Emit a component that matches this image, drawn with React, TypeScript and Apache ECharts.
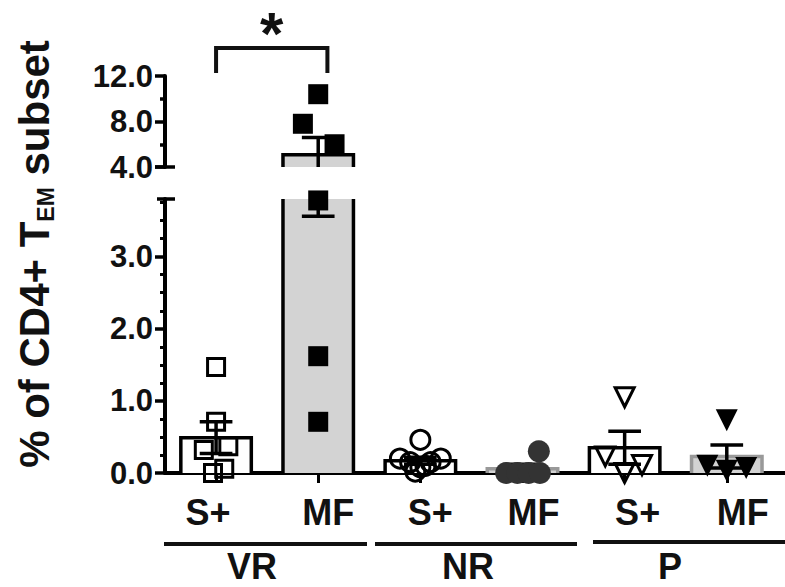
import React, { useEffect, useRef } from "react";
import * as echarts from "echarts";

// ---------- data ----------
const categories = ["S+", "MF", "S+", "MF", "S+", "MF"];
const groups = ["VR", "NR", "P"];
const means = [0.49, 5.08, 0.17, 0.06, 0.35, 0.23];
const sems = [0.22, 1.52, 0.05, 0.06, 0.23, 0.16];
const lowerTickValues = [0, 1, 2, 3];
const lowerMinorValues = [0.25, 0.5, 0.75, 1.25, 1.5, 1.75, 2.25, 2.5, 2.75, 3.25, 3.5, 3.75];
const upperTickInterval = 4;

const vrSPlus = [1.47, 0.71, 0.32, 0.37, 0.0, 0.06];
const vrMF = [10.4, 7.8, 6.0, 3.78, 1.62, 0.71];
const nrSPlus = [0.46, 0.2, 0.2, 0.15, 0.15, 0.08, 0.02, 0.1];
const nrMF = [0.3, 0.0, 0.0, 0.0, 0.0];
const pSPlus = [1.05, 0.23, 0.11, 0.0];
const pMF = [0.73, 0.1, 0.03, 0.07];

// horizontal scatter of the points inside each column (category units)
const vrSPlusJitter = [0, 0, -0.12, 0.12, -0.03, 0.08];
const vrMFJitter = [0, -0.15, 0.16, 0, 0, 0];
const nrSPlusJitter = [0, -0.2, 0.2, -0.1, 0.1, 0, -0.05, 0.05];
const nrMFJitter = [0.16, -0.16, -0.05, 0.06, 0.17];
const pSPlusJitter = [0, -0.19, 0.17, 0];
const pMFJitter = [0, -0.19, 0, 0.19];

// significance bracket between VR S+ and VR MF
const bracket = [[0, 1.09, 14.46, 12.26]];

// ---------- styles ----------
const FONT = "'Liberation Sans', Arial, Helvetica, sans-serif";
const TEXT = "#111";
const BAR_WIDTH = 0.69;
const CAP_WIDTH = 0.32;
const LOWER_MAX = 3.8;
const UPPER_MIN = 4;
const UPPER_MAX = 12;
const BREAK_SPLIT = 3.9;
const LW = 3.5;
const barFills = ["#ffffff", "#d3d3d3", "#ffffff", "#d3d3d3", "#ffffff", "#d3d3d3"];
const barStrokes = ["#000", "#000", "#000", "#999", "#000", "#999"];
const labelShift = [-8, 10, 10, 11, 13, 16];

const pointSets = [
  { cat: 0, values: vrSPlus, jitter: vrSPlusJitter, symbol: "rect", rotate: 0, size: 17, fill: "rgba(0,0,0,0)", stroke: "#000", bw: 3 },
  { cat: 1, values: vrMF, jitter: vrMFJitter, symbol: "rect", rotate: 0, size: 20, fill: "#000", stroke: "#000", bw: 0 },
  { cat: 2, values: nrSPlus, jitter: nrSPlusJitter, symbol: "circle", rotate: 0, size: 19, fill: "rgba(0,0,0,0)", stroke: "#000", bw: 3 },
  { cat: 3, values: nrMF, jitter: nrMFJitter, symbol: "circle", rotate: 0, size: 22, fill: "#333", stroke: "#333", bw: 0 },
  { cat: 4, values: pSPlus, jitter: pSPlusJitter, symbol: "triangle", rotate: 180, size: 19, fill: "rgba(0,0,0,0)", stroke: "#000", bw: 3 },
  { cat: 5, values: pMF, jitter: pMFJitter, symbol: "triangle", rotate: 180, size: 22, fill: "#000", stroke: "#000", bw: 0 },
];

const groupLines = [
  { x1: 164, x2: 367, y: 544 },
  { x1: 375, x2: 577, y: 544 },
  { x1: 593, x2: 785, y: 542 },
];
const groupLabelPos = [
  { x: 252, y: 566 },
  { x: 468, y: 566 },
  { x: 670, y: 566 },
];

function makeBarRender(segMin: number, segMax: number) {
  return (params: any, api: any) => {
    const i = api.value(0);
    const m = api.value(1);
    const s = api.value(2);
    const idx = params.dataIndex;
    const half = api.size([BAR_WIDTH, 0])[0] / 2;
    const capHalf = api.size([CAP_WIDTH, 0])[0] / 2;
    const cx = api.coord([i, segMin])[0];
    const children: any[] = [];
    if (m > segMin) {
      const top = Math.min(m, segMax);
      const yB = api.coord([i, segMin])[1];
      const yT = api.coord([i, top])[1];
      children.push({
        type: "rect",
        shape: { x: cx - half, y: yT, width: 2 * half, height: yB - yT },
        style: { fill: barFills[idx] },
      });
      if (m <= segMax) {
        children.push({
          type: "polyline",
          shape: { points: [[cx - half, yB], [cx - half, yT], [cx + half, yT], [cx + half, yB]] },
          style: { fill: "none", stroke: barStrokes[idx], lineWidth: LW, lineJoin: "miter" },
        });
      } else {
        children.push({
          type: "line",
          shape: { x1: cx - half, y1: yB, x2: cx - half, y2: yT },
          style: { stroke: barStrokes[idx], lineWidth: LW },
        });
        children.push({
          type: "line",
          shape: { x1: cx + half, y1: yB, x2: cx + half, y2: yT },
          style: { stroke: barStrokes[idx], lineWidth: LW },
        });
      }
    }
    const lo = m - s;
    const hi = m + s;
    const a = Math.max(lo, segMin);
    const b = Math.min(hi, segMax);
    if (b > a) {
      const ya = api.coord([i, a])[1];
      const yb = api.coord([i, b])[1];
      children.push({
        type: "line",
        shape: { x1: cx, y1: ya, x2: cx, y2: yb },
        style: { stroke: "#000", lineWidth: LW },
      });
      if (hi <= segMax && hi >= segMin) {
        const y = api.coord([i, hi])[1];
        children.push({
          type: "line",
          shape: { x1: cx - capHalf, y1: y, x2: cx + capHalf, y2: y },
          style: { stroke: "#000", lineWidth: LW },
        });
      }
      if (lo >= segMin && lo <= segMax) {
        const y = api.coord([i, lo])[1];
        children.push({
          type: "line",
          shape: { x1: cx - capHalf, y1: y, x2: cx + capHalf, y2: y },
          style: { stroke: "#000", lineWidth: LW },
        });
      }
    }
    return { type: "group", children };
  };
}

function bracketRender(params: any, api: any) {
  const x0 = api.value(0);
  const x1 = api.value(1);
  const yTop = api.value(2);
  const yLeg = api.value(3);
  const p0 = api.coord([x0, yLeg]);
  const p1 = api.coord([x0, yTop]);
  const p2 = api.coord([x1, yTop]);
  const p3 = api.coord([x1, yLeg]);
  return {
    type: "group",
    children: [
      {
        type: "polyline",
        shape: { points: [p0, p1, p2, p3] },
        style: { fill: "none", stroke: "#111", lineWidth: 4, lineJoin: "miter" },
      },
      {
        type: "text",
        x: (p1[0] + p2[0]) / 2,
        y: p1[1] - 15,
        style: {
          text: "*",
          font: `bold 60px ${FONT}`,
          fill: TEXT,
          align: "center",
          verticalAlign: "middle",
        },
      },
    ],
  };
}

export default function App() {
  const ref = useRef<HTMLDivElement>(null);

  useEffect(() => {
    document.body.style.margin = "0";
    const chart = echarts.init(ref.current!, undefined, { renderer: "svg" });

    const barData = means.map((m, i) => [i, m, sems[i]]);

    const scatterSeries: any[] = [];
    pointSets.forEach((ps) => {
      const pts = ps.values.map((v, k) => [ps.cat + ps.jitter[k], v]);
      const common = {
        type: "scatter",
        symbol: ps.symbol,
        symbolRotate: ps.rotate,
        symbolSize: ps.size,
        z: 5,
        clip: false,
        silent: true,
        itemStyle: { color: ps.fill, borderColor: ps.stroke, borderWidth: ps.bw, opacity: 1 },
      };
      scatterSeries.push({
        ...common,
        xAxisIndex: 1,
        yAxisIndex: 2,
        data: pts.filter((p) => p[1] <= BREAK_SPLIT),
      });
      scatterSeries.push({
        ...common,
        xAxisIndex: 0,
        yAxisIndex: 0,
        data: pts.filter((p) => p[1] > BREAK_SPLIT),
      });
    });

    const tickLabelStyle = {
      color: TEXT,
      fontFamily: FONT,
      fontWeight: "bold",
      fontSize: 31,
      margin: 12,
      formatter: (v: number) => v.toFixed(1),
    };

    const rich: any = {};
    labelShift.forEach((d, i) => {
      rich["l" + i] = {
        fontFamily: FONT,
        fontWeight: "bold",
        fontSize: 36,
        color: TEXT,
        padding: d >= 0 ? [0, 0, 0, 2 * d] : [0, -2 * d, 0, 0],
      };
    });

    const xMin = -0.5;
    const xMax = 5.57;

    const yBase = {
      type: "value",
      position: "left",
      splitLine: { show: false },
    };

    const option: any = {
      animation: false,
      grid: [
        { left: 165, right: 0, top: 76, height: 91, containLabel: false },
        { left: 165, right: 0, top: 199, height: 274, containLabel: false },
      ],
      xAxis: [
        { gridIndex: 0, type: "value", min: xMin, max: xMax, show: false },
        {
          gridIndex: 1,
          type: "value",
          position: "bottom",
          min: xMin,
          max: xMax,
          splitLine: { show: false },
          axisLine: { show: true, onZero: false, lineStyle: { color: "#000", width: 4 } },
          axisTick: {
            show: true,
            customValues: [0, 1, 2, 3, 4, 5],
            length: 10,
            lineStyle: { color: "#000", width: 3 },
          },
          axisLabel: {
            show: true,
            customValues: [0, 1, 2, 3, 4, 5],
            margin: 21,
            formatter: (v: number) => {
              const i = Math.round(v);
              return `{l${i}|${categories[i]}}`;
            },
            rich,
          },
        },
      ],
      yAxis: [
        {
          ...yBase,
          gridIndex: 0,
          min: UPPER_MIN,
          max: UPPER_MAX,
          interval: upperTickInterval,
          axisLine: { show: true, onZero: false, lineStyle: { color: "#000", width: 4 } },
          axisTick: { show: true, length: 10, lineStyle: { color: "#000", width: 3.5 } },
          minorTick: { show: true, splitNumber: 2, length: 5, lineStyle: { color: "#000", width: 3.5 } },
          axisLabel: tickLabelStyle,
        },
        {
          ...yBase,
          gridIndex: 0,
          min: UPPER_MIN,
          max: UPPER_MAX,
          offset: -10,
          axisLine: { show: false, onZero: false },
          axisTick: { show: true, customValues: [UPPER_MIN], length: 20, lineStyle: { color: "#000", width: 3.5 } },
          axisLabel: { show: false },
        },
        {
          ...yBase,
          gridIndex: 1,
          min: 0,
          max: LOWER_MAX,
          axisLine: { show: true, onZero: false, lineStyle: { color: "#000", width: 4 } },
          axisTick: { show: true, customValues: lowerTickValues, length: 10, lineStyle: { color: "#000", width: 3.5 } },
          axisLabel: { ...tickLabelStyle, customValues: lowerTickValues },
        },
        {
          ...yBase,
          gridIndex: 1,
          min: 0,
          max: LOWER_MAX,
          axisLine: { show: false, onZero: false },
          axisTick: { show: true, customValues: lowerMinorValues, length: 5, lineStyle: { color: "#000", width: 3 } },
          axisLabel: { show: false },
        },
        {
          ...yBase,
          gridIndex: 1,
          min: 0,
          max: LOWER_MAX,
          offset: -10,
          axisLine: { show: false, onZero: false },
          axisTick: { show: true, customValues: [LOWER_MAX], length: 18, lineStyle: { color: "#000", width: 3.5 } },
          axisLabel: { show: false },
        },
      ],
      series: [
        {
          type: "custom",
          xAxisIndex: 1,
          yAxisIndex: 2,
          z: 2,
          silent: true,
          renderItem: makeBarRender(0, LOWER_MAX),
          encode: { x: 0, y: 1 },
          data: barData,
        },
        {
          type: "custom",
          xAxisIndex: 0,
          yAxisIndex: 0,
          z: 2,
          silent: true,
          renderItem: makeBarRender(UPPER_MIN, UPPER_MAX),
          encode: { x: 0, y: 1 },
          data: barData,
        },
        {
          type: "custom",
          xAxisIndex: 0,
          yAxisIndex: 0,
          z: 6,
          silent: true,
          clip: false,
          renderItem: bracketRender,
          encode: { x: 0, y: 2 },
          data: bracket,
        },
        ...scatterSeries,
      ],
      graphic: [
        {
          type: "text",
          x: 34,
          y: 254,
          rotation: Math.PI / 2,
          style: {
            text: "{a|% of CD4+ T}{b|EM}{a| subset}",
            align: "center",
            verticalAlign: "middle",
            rich: {
              a: { fontFamily: FONT, fontWeight: "bold", fontSize: 42, lineHeight: 46, fill: TEXT, color: TEXT },
              b: {
                fontFamily: FONT,
                fontWeight: "bold",
                fontSize: 23,
                lineHeight: 27,
                verticalAlign: "bottom",
                fill: TEXT,
                color: TEXT,
              },
            },
          },
        },
        ...groupLines.map((g) => ({
          type: "line",
          shape: { x1: g.x1, y1: g.y, x2: g.x2, y2: g.y },
          style: { stroke: "#111", lineWidth: 4 },
        })),
        ...groups.map((name, i) => ({
          type: "text",
          x: groupLabelPos[i].x,
          y: groupLabelPos[i].y,
          style: {
            text: name,
            font: `bold 36px ${FONT}`,
            fill: TEXT,
            align: "center",
            verticalAlign: "middle",
          },
        })),
      ],
    };

    chart.setOption(option);
    return () => chart.dispose();
  }, []);

  return <div ref={ref} style={{ width: 785, height: 587 }} />;
}
